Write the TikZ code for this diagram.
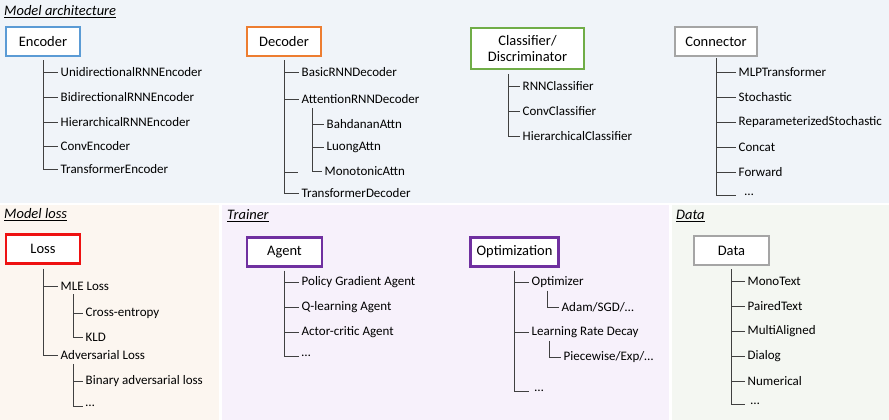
\documentclass[tikz,border=0pt]{standalone}
\usepackage{fontspec}
\setmainfont{Carlito}
\usetikzlibrary{positioning}
\definecolor{encblue}{HTML}{5B9BD5}
\definecolor{decorange}{HTML}{ED7D31}
\definecolor{clsgreen}{HTML}{70AD47}
\definecolor{congrey}{HTML}{A5A5A5}
\definecolor{lossred}{HTML}{EE1111}
\definecolor{trpurple}{HTML}{7030A0}
\definecolor{bgarch}{HTML}{F0F4F9}
\definecolor{bgloss}{HTML}{FCF6F0}
\definecolor{bgtrain}{HTML}{F7F1FB}
\definecolor{bgdata}{HTML}{F4F7F2}

\begin{document}
\begin{tikzpicture}[
  x=1pt, y=-1pt,
  font=\fontsize{13}{15}\selectfont,
  cat/.style={draw, line width=2.2pt, fill=white, align=center, inner sep=2pt,
              minimum height=29pt, font=\fontsize{14.5}{16}\selectfont},
  item/.style={anchor=west, inner xsep=2.5pt, inner ysep=0pt},
  heading/.style={anchor=west, inner sep=0pt, font=\fontsize{14.5}{16}\itshape\selectfont},
  trunk/.style={line width=0.9pt, black!75}
]
\useasboundingbox (0,0) rectangle (889,420);
% background panels
\fill[bgarch]  (0,0) rectangle (889,203);
\fill[bgloss]  (0,205) rectangle (219,420);
\fill[bgtrain] (222,205) rectangle (669,420);
\fill[bgdata]  (672,205) rectangle (889,420);

\node[heading] (harch)  at (4,12)   {\underline{Model architecture}};
\node[heading] (hloss)  at (4,215)  {\underline{Model loss}};
\node[heading] (htrain) at (227,216) {\underline{Trainer}};
\node[heading] (hdata)  at (676,216) {\underline{Data}};

% category boxes
\node[cat, draw=encblue, minimum width=74pt]    (enc) at (43,41.5)    {Encoder};
\node[cat, draw=decorange, minimum width=74pt]  (dec) at (284,41.5)   {Decoder};
\node[cat, draw=clsgreen, minimum width=113pt, minimum height=41pt] (cls) at (527.5,48.5) {Classifier/\\Discriminator};
\node[cat, draw=congrey, minimum width=82pt]    (con) at (716,41.5)   {Connector};
\node[cat, draw=lossred, minimum width=74pt]    (loss) at (43,249)    {Loss};
\node[cat, draw=trpurple, minimum width=75pt]   (agent) at (284.5,252) {Agent};
\node[cat, draw=trpurple, minimum width=88pt]   (opt) at (514.5,252)  {Optimization};
\node[cat, draw=congrey, minimum width=75pt]    (data) at (731.5,250.5) {Data};

% encoder
\node[item] (e1) at (58,72)  {UnidirectionalRNNEncoder};
\node[item] (e2) at (58,97)  {BidirectionalRNNEncoder};
\node[item] (e3) at (58,122) {HierarchicalRNNEncoder};
\node[item] (e4) at (58,146) {ConvEncoder};
\node[item] (e5) at (58,169) {TransformerEncoder};
\draw[trunk, shorten <=3pt] (enc.south) |- (e5.west);
\foreach \n in {e1,e2,e3,e4}
  \draw[trunk] (enc.south |- \n.west) -- (\n.west);

% decoder
\node[item] (d1) at (299,72)  {BasicRNNDecoder};
\node[item] (d2) at (299,99)  {AttentionRNNDecoder};
\node[item] (d3) at (324,124) {BahdananAttn};
\node[item] (d4) at (324,147) {LuongAttn};
\node[item] (d5) at (322,171) {MonotonicAttn};
\node[item] (d6) at (299,193) {TransformerDecoder};
\coordinate (dstub) at (298,172);
\draw[trunk, shorten <=3pt] (dec.south) |- (d6.west);
\foreach \n in {d1,d2,dstub}
  \draw[trunk] (dec.south |- \n) -- (\n);
\draw[trunk, shorten <=4pt] ([xshift=13pt]d2.south west) |- (d5.west);
\draw[trunk] ([xshift=13pt]d2.south west |- d3.west) -- (d3.west);
\draw[trunk] ([xshift=13pt]d2.south west |- d4.west) -- (d4.west);

% classifier
\coordinate (clsroot) at ([xshift=-19.5pt]cls.south);
\node[item] (c1) at (520,86)  {RNNClassifier};
\node[item] (c2) at (520,111) {ConvClassifier};
\node[item] (c3) at (520,136) {HierarchicalClassifier};
\draw[trunk, shorten <=4pt] (clsroot) |- (c3.west);
\foreach \n in {c1,c2}
  \draw[trunk] (clsroot |- \n.west) -- (\n.west);

% connector
\node[item] (k1) at (736,72)  {MLPTransformer};
\node[item] (k2) at (736,97)  {Stochastic};
\node[item] (k3) at (736,122) {ReparameterizedStochastic};
\node[item] (k4) at (736,147) {Concat};
\node[item] (k5) at (736,172) {Forward};
\node[item] (k6) at (736,195) {\ \ \dots};
\draw[trunk, shorten <=1pt] (con.south) |- (k6.west);
\foreach \n in {k1,k2,k3,k4,k5}
  \draw[trunk] (con.south |- \n.west) -- (\n.west);

% loss
\node[item] (l1) at (58,286) {MLE Loss};
\node[item] (l2) at (83,313) {Cross-entropy};
\node[item] (l3) at (83,337) {KLD};
\node[item] (l4) at (58,355) {Adversarial Loss};
\node[item] (l5) at (83,381) {Binary adversarial loss};
\node[item] (l6) at (83,406) {\dots};
\draw[trunk, shorten <=4pt] (loss.south) |- (l4.west);
\draw[trunk] (loss.south |- l1.west) -- (l1.west);
\draw[trunk, shorten <=4pt] ([xshift=15pt]l1.south west) |- (l3.west);
\draw[trunk] ([xshift=15pt]l1.south west |- l2.west) -- (l2.west);
\draw[trunk, shorten <=4pt] ([xshift=15pt]l4.south west) |- (l6.west);
\draw[trunk] ([xshift=15pt]l4.south west |- l5.west) -- (l5.west);

% agent
\node[item] (a1) at (299,282) {Policy Gradient Agent};
\node[item] (a2) at (299,307) {Q-learning Agent};
\node[item] (a3) at (299,332) {Actor-critic Agent};
\node[item] (a4) at (299,356) {\dots};
\draw[trunk, shorten <=3pt] (agent.south) |- (a4.west);
\foreach \n in {a1,a2,a3}
  \draw[trunk] (agent.south |- \n.west) -- (\n.west);

% optimization
\node[item] (o1) at (529,282) {Optimizer};
\node[item] (o2) at (559,307) {Adam/SGD/\dots};
\node[item] (o3) at (529,332) {Learning Rate Decay};
\node[item] (o4) at (561,357) {Piecewise/Exp/\dots};
\node[item] (o5) at (529,391) {\ \dots};
\draw[trunk, shorten <=3pt] (opt.south) |- (o5.west);
\foreach \n in {o1,o3}
  \draw[trunk] (opt.south |- \n.west) -- (\n.west);
\draw[trunk, shorten <=3pt] ([xshift=18pt]o1.south west) |- (o2.west);
\draw[trunk, shorten <=3pt] ([xshift=20pt]o3.south west) |- (o4.west);

% data
\node[item] (m1) at (745,281) {MonoText};
\node[item] (m2) at (745,306) {PairedText};
\node[item] (m3) at (745,331) {MultiAligned};
\node[item] (m4) at (745,356) {Dialog};
\node[item] (m5) at (745,381) {Numerical};
\node[item] (m6) at (745,404) {\ \dots};
\draw[trunk, shorten <=3pt] (data.south) |- (m6.west);
\foreach \n in {m1,m2,m3,m4,m5}
  \draw[trunk] (data.south |- \n.west) -- (\n.west);
\end{tikzpicture}
\end{document}
